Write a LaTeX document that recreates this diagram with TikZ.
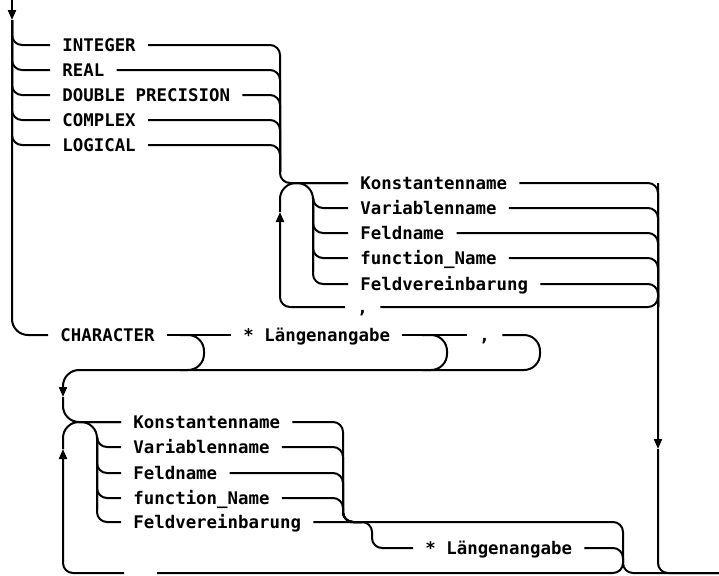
\documentclass[tikz,border=0pt]{standalone}
\usepackage{fontspec}
\setmonofont{DejaVu Sans Mono}
\usetikzlibrary{arrows.meta}

\begin{document}
\begin{tikzpicture}[
    x=0.5pt, y=-0.5pt,
    every node/.style={font=\ttfamily\bfseries\fontsize{8.7}{10}\selectfont, anchor=west, inner xsep=6pt, inner ysep=0pt, text height=6.3pt, text depth=0pt},
    flow/.style={line width=1pt, rounded corners=5pt},
    bypass/.style={flow, rounded corners=8pt},
    arrow/.style={flow, -{Triangle[width=4pt, length=5pt]}}
]
\useasboundingbox (0,0) rectangle (719,575);

% Rails, junctions and arrow points
\coordinate (top) at (12,0);
\coordinate (a0) at (12,20);
\coordinate (c1) at (280,183);
\coordinate (c1u) at (280,172);
\coordinate (j1) at (290,183);
\coordinate (b1t) at (313,198);
\coordinate (b1b) at (313,272);
\coordinate (a1) at (280,212);
\coordinate (c1r) at (658,183);
\coordinate (c2) at (658,307);
\coordinate (a2) at (658,449);
\coordinate (exit) at (719,573);
\coordinate (by1) at (180,335);
\coordinate (by1b) at (204,370);
\coordinate (by1c) at (180,370);
\coordinate (by2) at (422,335);
\coordinate (by2b) at (447,370);
\coordinate (by2c) at (422,370);
\coordinate (rl) at (540,370);
\coordinate (a3) at (63,397);
\coordinate (j2) at (73,422);
\coordinate (b2t) at (97,437);
\coordinate (b2b) at (97,510);
\coordinate (c3) at (343,522);
\coordinate (s0) at (350,522);
\coordinate (s1) at (362,522);
\coordinate (s2) at (372,548);
\coordinate (j3) at (623,563);
\coordinate (gapR) at (157,573);
\coordinate (gapL) at (124,573);
\coordinate (a4) at (63,449);

% Type keywords
\node (kwint) at (50,45) {INTEGER};
\node (kwreal) at (50,70) {REAL};
\node (kwdouble) at (50,95) {DOUBLE PRECISION};
\node (kwcomplex) at (50,120) {COMPLEX};
\node (kwlogical) at (50,145) {LOGICAL};
\node (kwchar) at (48,335) {CHARACTER};

% Name list, numeric types
\node (b1konst) at (348,183) {Konstantenname};
\node (b1var) at (348,208) {Variablenname};
\node (b1feld) at (348,233) {Feldname};
\node (b1func) at (348,258) {function\_Name};
\node (b1fvb) at (348,284) {Feldvereinbarung};
\node (b1comma) at (345,307) {,};

% CHARACTER options
\node (charlen) at (231,335) {* Längenangabe};
\node (charcomma) at (467,335) {,};

% Name list, CHARACTER
\node (b2konst) at (121,422) {Konstantenname};
\node (b2var) at (121,447) {Variablenname};
\node (b2feld) at (121,473) {Feldname};
\node (b2func) at (121,498) {function\_Name};
\node (b2fvb) at (121,522) {Feldvereinbarung};
\node (b2len) at (413,548) {* Längenangabe};

% Main rail and keyword branches
\draw[arrow] (top) -- (a0);
\draw[flow] (a0) |- (kwint.west);
\draw[flow] (a0) |- (kwreal.west);
\draw[flow] (a0) |- (kwdouble.west);
\draw[flow] (a0) |- (kwcomplex.west);
\draw[flow] (a0) |- (kwlogical.west);
\draw[bypass] (a0) |- (kwchar.west);

\draw[flow] (kwint.east) -| (c1) -- (b1konst.west);
\draw[flow] (kwreal.east) -| (c1u);
\draw[flow] (kwdouble.east) -| (c1u);
\draw[flow] (kwcomplex.east) -| (c1u);
\draw[flow] (kwlogical.east) -| (c1u);

% First name list
\draw[bypass] (j1) -| (b1b);
\draw[flow] (b1t) |- (b1var.west);
\draw[flow] (b1t) |- (b1feld.west);
\draw[flow] (b1t) |- (b1func.west);
\draw[flow] (b1t) |- (b1fvb.west);

\draw[arrow] (b1konst.east) -| (a2);
\draw[flow] (b1var.east) -| (c2);
\draw[flow] (b1feld.east) -| (c2);
\draw[flow] (b1func.east) -| (c2);
\draw[flow] (b1fvb.east) -| (c2);
\draw[flow] (a2) |- (exit);

% Comma loop
\draw[flow] (c1r) |- (b1comma.east);
\draw[arrow] (b1comma.west) -| (a1);
\draw[bypass] (a1) |- (b1konst.west);

% CHARACTER row
\draw[flow] (kwchar.east) -- (charlen.west);
\draw[flow] (charlen.east) -- (charcomma.west);
\draw[bypass] (by1) -| (by1b) -- (by1c);
\draw[bypass] (by2) -| (by2b) -- (by2c);
\draw[arrow, bypass] (charcomma.east) -| (rl) -| (a3);
\draw[bypass] (a3) |- (b2konst.west);

% Second name list
\draw[bypass] (j2) -| (b2b);
\draw[flow] (b2t) |- (b2var.west);
\draw[flow] (b2t) |- (b2feld.west);
\draw[flow] (b2t) |- (b2func.west);
\draw[flow] (b2t) |- (b2fvb.west);

\draw[flow] (b2konst.east) -| (c3) -- (s1);
\draw[flow] (b2var.east) -| (c3) -- (s1);
\draw[flow] (b2feld.east) -| (c3) -- (s1);
\draw[flow] (b2func.east) -| (c3) -- (s1);
\draw[flow] (b2fvb.east) -| (j3);
\draw[flow] (s0) -| (s2) -- (b2len.west);
\draw[flow] (b2len.east) -| (j3);

% Loop back and exit
\draw[flow] (j3) |- (gapR);
\draw[arrow] (gapL) -| (a4);
\draw[bypass] (a4) |- (b2konst.west);
\draw[flow] (j3) |- (exit);

\end{tikzpicture}
\end{document}
